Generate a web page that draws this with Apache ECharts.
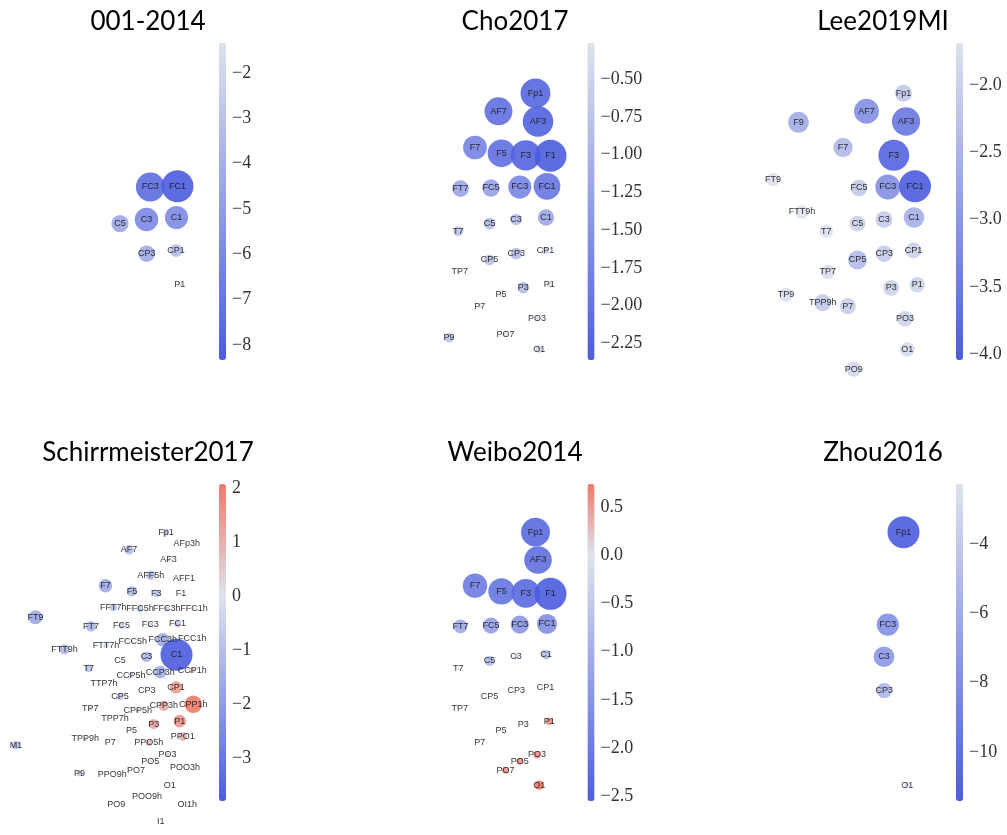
<!DOCTYPE html>
<html><head><meta charset="utf-8">
<script src="https://cdn.jsdelivr.net/npm/echarts@6/dist/echarts.min.js"></script>
<style>html,body{margin:0;padding:0;background:#fff}#c{width:1007px;height:835px}</style>
</head><body><div id="c"></div><script>
// Electrode positions (projected 2D layout, arbitrary units)
const electrodes = ['Fp1','AFp3h','AF7','AF3','AFF5h','AFF1','F9','F7','F5','F3','F1','FFT7h','FFC5h','FFC3h','FFC1h','FT9','FT7','FC5','FC3','FC1','FTT9h','FTT7h','FCC5h','FCC3h','FCC1h','T7','C5','C3','C1','CCP5h','CCP3h','CCP1h','TTP7h','CP5','CP3','CP1','TP7','CPP5h','CPP3h','CPP1h','TPP7h','TP9','P3','P1','P5','TPP9h','P7','PPO5h','PPO1','M1','PO3','PO5','POO3h','P9','PPO9h','PO7','O1','POO9h','OI1h','PO9','I1'];
const elecX = [-34,-13.3,-71,-31.5,-49.3,-16,-139,-94.5,-68,-43.7,-19,-86.7,-60,-33.3,-6,-164.5,-109,-78.5,-49.7,-22.5,-135.5,-94,-67.3,-37.3,-7.7,-111.3,-80,-53.5,-23.5,-69,-39.7,-7.7,-96,-80,-53.3,-24,-109.7,-62.3,-36.3,-6.7,-85,-151.5,-46.3,-20.3,-68.5,-114.7,-89.7,-51.3,-17.3,-184,-32.5,-49.7,-15,-120.4,-87.7,-64,-30.3,-53,-12.7,-83.7,-39.3];
const elecY = [106.7,94.7,88.7,78.5,63,60,77.7,52.5,46.7,44.7,44.2,30.3,29,29,29.3,20.5,11.3,12,13,13.7,-12,-8,-4.3,-2.3,-1.3,-31.3,-23.7,-19.5,-17.5,-38.3,-35,-33.3,-46.3,-60,-53.7,-50.5,-72,-73.7,-69.3,-67.7,-82.3,-94.7,-87.8,-84.7,-94.5,-102.8,-106.2,-106.7,-100.3,-109,-118.7,-125.3,-132,-137.8,-138.3,-134.5,-149.5,-161.3,-169.3,-169.3,-186.7];

const titles = ['001-2014','Cho2017','Lee2019MI','Schirrmeister2017','Weibo2014','Zhou2016'];

const ch001 = ['FC3','FC1','C5','C3','C1','CP3','CP1','P1'];
const val001 = [-7.5,-8.33,-4.5,-6.1,-6.0,-4.3,-3.3,-1.34];
const ticks001 = [-8,-7,-6,-5,-4,-3,-2];

const chCho = ['Fp1','AF7','AF3','F7','F5','F3','F1','FT7','FC5','FC3','FC1','T7','C5','C3','C1','TP7','CP5','CP3','CP1','P9','P7','P5','P3','P1','PO7','PO3','O1'];
const valCho = [-2.2,-2.06,-2.25,-1.75,-2.04,-2.23,-2.36,-1.23,-1.28,-1.7,-1.97,-0.74,-0.86,-0.86,-1.2,-0.26,-0.8,-0.86,-0.55,-0.7,-0.3,-0.35,-0.85,-0.4,-0.3,-0.4,-0.5];
const ticksCho = [-2.25,-2.0,-1.75,-1.5,-1.25,-1.0,-0.75,-0.5];

const chLee = ['Fp1','AF7','AF3','F9','F7','F3','FT9','FC5','FC3','FC1','FTT9h','T7','C5','C3','C1','TP7','CP5','CP3','CP1','TP9','TPP9h','P7','P3','P1','PO3','O1','PO9'];
const valLee = [-2.15,-3.15,-3.57,-2.65,-2.45,-3.9,-1.69,-2.1,-3.15,-4.04,-1.7,-1.72,-2.0,-2.1,-2.6,-1.8,-2.4,-2.1,-2.0,-1.75,-2.15,-2.05,-2.0,-1.95,-1.95,-1.85,-1.9];
const ticksLee = [-4.0,-3.5,-3.0,-2.5,-2.0];

const chSch = ['Fp1','AFp3h','AF7','AF3','AFF5h','AFF1','F7','F5','F3','F1','FFT7h','FFC5h','FFC3h','FFC1h','FT9','FT7','FC5','FC3','FC1','FTT9h','FTT7h','FCC5h','FCC3h','FCC1h','T7','C5','C3','C1','CCP5h','CCP3h','CCP1h','TTP7h','CP5','CP3','CP1','TP7','CPP5h','CPP3h','CPP1h','TPP7h','P5','P3','P1','TPP9h','P7','PPO5h','PPO1','M1','PO5','PO3','POO3h','P9','PPO9h','PO7','O1','POO9h','OI1h','PO9','I1'];
const valSch = [-0.8,-0.2,-1.1,-0.5,-1.1,-0.1,-1.6,-1.2,-0.9,-0.3,-0.9,-0.8,-0.6,-0.3,-1.65,-1.25,-0.7,-0.6,-0.8,-1.2,-0.6,-0.3,-1.6,-0.1,-0.9,-0.2,-1.25,-3.79,-0.6,-1.5,0.7,-0.1,-0.8,-0.2,1.45,-0.5,-0.5,1.2,2.07,-0.1,-0.2,1.2,1.5,-0.5,-0.1,0.8,1.0,-1.0,0.3,0.5,0.2,-0.7,0.0,0.1,0.1,-0.1,0.1,0.0,0.0];
const ticksSch = [-3,-2,-1,0,1,2];

const chWeibo = ['Fp1','AF3','F7','F5','F3','F1','FT7','FC5','FC3','FC1','T7','C5','C3','C1','TP7','CP5','CP3','CP1','P7','P5','P3','P1','PO7','PO5','PO3','O1'];
const valWeibo = [-2.3,-2.2,-1.95,-2.1,-2.3,-2.55,-1.1,-1.28,-1.45,-1.6,-0.2,-0.8,-0.4,-0.75,-0.05,-0.1,-0.05,0.0,0.05,-0.05,-0.1,0.6,0.55,0.55,0.6,0.74];
const ticksWeibo = [-2.5,-2.0,-1.5,-1.0,-0.5,0.0,0.5];

const chZhou = ['Fp1','FC3','C3','CP3','O1'];
const valZhou = [-11.42,-7.9,-7.4,-5.4,-2.27];
const ticksZhou = [-10,-8,-6,-4];

const panels = [
  {title: titles[0], ch: ch001, val: val001, ticks: ticks001, dec: 0},
  {title: titles[1], ch: chCho, val: valCho, ticks: ticksCho, dec: 2},
  {title: titles[2], ch: chLee, val: valLee, ticks: ticksLee, dec: 1},
  {title: titles[3], ch: chSch, val: valSch, ticks: ticksSch, dec: 0},
  {title: titles[4], ch: chWeibo, val: valWeibo, ticks: ticksWeibo, dec: 1},
  {title: titles[5], ch: chZhou, val: valZhou, ticks: ticksZhou, dec: 0}
];

// layout
const colX = [0, 369.5, 737.5], rowY = [0, 440];
const barX = [219, 587.5, 956], barTop = [43, 484], barH = 317;
const titleX = [148, 515, 883], titleY = [22, 453];

const BLUE = [75,92,222], LIGHT = [222,227,236], RED = [238,122,106];
function lerp(a, b, t) { return a.map((x, i) => Math.round(x + (b[i] - x) * t)); }
function colorAt(v, mn, mx) {
  let c;
  if (mx <= 0) c = lerp(BLUE, LIGHT, (v - mn) / (mx - mn));
  else if (v <= 0) c = lerp(BLUE, LIGHT, (v - mn) / (0 - mn));
  else c = lerp(LIGHT, RED, v / mx);
  return 'rgb(' + c.join(',') + ')';
}

const option = {
  animation: false, backgroundColor: '#fff',
  title: [], grid: [], xAxis: [], yAxis: [], series: [], visualMap: []
};

panels.forEach((p, i) => {
  const col = i % 3, row = Math.floor(i / 3);
  const mn = Math.min(...p.val), mx = Math.max(...p.val);
  const maxAbs = Math.max(Math.abs(mn), Math.abs(mx));
  option.title.push({
    text: p.title, left: titleX[col], top: titleY[row], padding: 0,
    textAlign: 'center', textVerticalAlign: 'middle',
    textStyle: {fontFamily: 'Lato', fontSize: 26, fontWeight: 'normal', color: '#000'}
  });
  option.grid.push({left: colX[col], top: rowY[row], width: 215, height: 400});
  option.xAxis.push({gridIndex: 2*i, type: 'value', min: -200, max: 15, show: false});
  option.yAxis.push({gridIndex: 2*i, type: 'value', min: -200, max: 200, show: false});
  option.grid.push({left: barX[col], top: barTop[row], width: 7, height: barH});
  option.xAxis.push({gridIndex: 2*i+1, type: 'value', min: 0, max: 1, show: false});
  option.yAxis.push({
    gridIndex: 2*i+1, type: 'value', min: mn, max: mx, position: 'right',
    axisLine: {show: false}, axisTick: {show: false}, splitLine: {show: false},
    axisLabel: {
      customValues: p.ticks, margin: 6, fontFamily: 'Liberation Serif', fontSize: 18, color: '#333',
      formatter: v => (v < 0 ? '\u2212' : '') + Math.abs(v).toFixed(p.dec)
    }
  });
  option.series.push({
    type: 'scatter', xAxisIndex: 2*i, yAxisIndex: 2*i,
    data: p.ch.map((n, k) => {
      const j = electrodes.indexOf(n);
      return {name: n, value: [elecX[j], elecY[j], p.val[k]]};
    }),
    symbolSize: v => 32 * Math.abs(v[2]) / maxAbs,
    itemStyle: {opacity: 0.9},
    label: {show: true, position: 'inside', formatter: '{b}', fontFamily: 'Liberation Sans', fontSize: 9, color: '#1a1a1a'},
    emphasis: {disabled: true}, silent: true, clip: false
  });
  const colors = [];
  const N = 80;
  for (let k = 0; k <= N; k++) colors.push(colorAt(mn + (mx - mn) * k / N, mn, mx));
  option.visualMap.push({
    type: 'continuous', seriesIndex: i, dimension: 2, min: mn, max: mx,
    calculable: false, show: true, left: barX[col], top: barTop[row],
    itemWidth: 7, itemHeight: barH, padding: 0, text: null, hoverLink: false,
    inRange: {color: colors}
  });
});

const chart = echarts.init(document.getElementById('c'), null, {renderer: 'canvas'});
chart.setOption(option);
</script></body></html>
